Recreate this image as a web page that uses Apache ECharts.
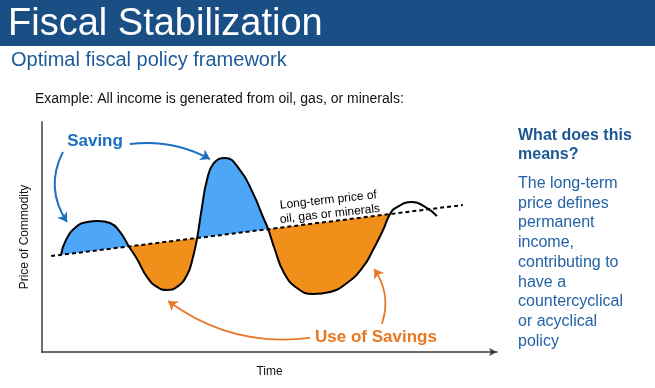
<!DOCTYPE html>
<html><head><meta charset="utf-8">
<script src="https://cdn.jsdelivr.net/npm/echarts@6/dist/echarts.min.js"></script>
<style>html,body{margin:0;padding:0;background:#fff}#c{width:655px;height:388px}</style>
</head><body><div id="c"></div>
<script>
// ---- data (arbitrary units: Time 0-100, Price 0-100) ----
const curveX = [4.18, 5.27, 7.47, 9.89, 12.31, 14.95, 17.14, 19.1, 20.88, 23.08, 25.27, 27.47, 29.67, 31.87, 33.19, 34.1,
  35.16, 36.26, 37.8, 40.22, 43.52, 46.37, 48.57, 49.7, 51.21, 53.19, 56.04, 59.56, 63.3, 67.03, 70.55, 72.75, 74.95, 76.5,
  78.02, 81.32, 84.62, 86.81];
const curveY = [42.2, 48.7, 54.35, 56.5, 56.96, 56.1, 52.2, 45.9, 40.4, 32.6, 28.3, 26.96, 28.3, 33.5, 41.3, 49.6,
  63.0, 74.8, 82.2, 84.35, 79.1, 69.1, 58.7, 53.4, 44.35, 34.35, 27.8, 25.2, 26.1, 30.0, 36.96, 44.35, 53.0, 60.0,
  63.0, 65.2, 62.6, 59.1];
const trendX = [2.0, 92.5];
const trendY = [41.7, 63.9];
// x-ranges where the price is below its long-term level (use of savings)
const useRanges = [[19.1, 34.1], [49.7, 76.5]];
// x-range of the saving shading (peaks before the last one)
const savingRange = [0, 70];

// annotation anchors (data units)
const savingLabel = [11.65, 91.7];
const useLabel = [73.4, 6.3];
const trendLabel = [63.1, 63.0];
const savingArrows = [[4.6, 87.0, 5.5, 56.5, -0.29], [19.3, 90.4, 36.9, 83.9, 0.16]];
const useArrows = [[58.9, 6.1, 27.7, 22.2, 0.2], [74.7, 12.2, 73.0, 36.1, -0.25]];

const BLUE = '#4DA6F7', ORANGE = '#F18F1B';
const FONT = '"Liberation Sans", Arial, sans-serif';

const curve = curveX.map((x, i) => [x, curveY[i]]);
const trend = trendX.map((x, i) => [x, trendY[i]]);
const TRANSP = 'rgba(255,255,255,0)';

const chart = echarts.init(document.getElementById('c'), null, {renderer: 'canvas'});
const hidden = {lineStyle: {opacity: 0, width: 0}, showSymbol: false, silent: true, animation: false, smooth: true};

chart.setOption({
  animation: false,
  backgroundColor: '#fff',
  grid: {left: 42, top: 122, width: 455, height: 230, containLabel: false},
  xAxis: {type: 'value', min: 0, max: 100, z: 10,
    axisLine: {show: true, onZero: false, lineStyle: {color: '#3c3c3c', width: 1.5}, symbol: ['none', 'arrow'], symbolSize: [6, 8]},
    axisTick: {show: false}, axisLabel: {show: false}, splitLine: {show: false},
    name: 'Time', nameLocation: 'middle', nameGap: 14,
    nameTextStyle: {fontFamily: FONT, fontSize: 12, color: '#111'}},
  yAxis: {type: 'value', min: 0, max: 100, z: 10,
    axisLine: {show: true, onZero: false, lineStyle: {color: '#6e6e6e', width: 2}},
    axisTick: {show: false}, axisLabel: {show: false}, splitLine: {show: false},
    name: 'Price of Commodity', nameLocation: 'middle', nameGap: 11,
    nameTextStyle: {fontFamily: FONT, fontSize: 12, color: '#111'}},
  visualMap: [
    {type: 'piecewise', show: false, dimension: 0, seriesIndex: 0,
      pieces: [{gte: savingRange[0], lte: savingRange[1], color: BLUE}], outOfRange: {color: TRANSP}},
    {type: 'piecewise', show: false, dimension: 0, seriesIndex: 2,
      pieces: useRanges.map(r => ({gte: r[0], lte: r[1], color: ORANGE})), outOfRange: {color: TRANSP}},
    {type: 'piecewise', show: false, dimension: 0, seriesIndex: 3,
      pieces: useRanges.map(r => ({gte: r[0], lte: r[1], color: '#ffffff'})), outOfRange: {color: TRANSP}}
  ],
  series: [
    Object.assign({type: 'line', data: curve, z: 1, areaStyle: {origin: 'start', opacity: 1}}, hidden),
    Object.assign({type: 'line', data: trend, z: 2, areaStyle: {origin: 'start', opacity: 1, color: '#ffffff'}}, hidden, {smooth: false}),
    Object.assign({type: 'line', data: curve, z: 3, areaStyle: {origin: 'end', opacity: 1}}, hidden),
    Object.assign({type: 'line', data: trend, z: 4, areaStyle: {origin: 'end', opacity: 1}}, hidden, {smooth: false}),
    {type: 'line', data: trend, z: 6, showSymbol: false, silent: true,
      lineStyle: {color: '#000', width: 2, type: [4, 3]}},
    {type: 'line', data: curve, z: 7, smooth: true, showSymbol: false, silent: true,
      lineStyle: {color: '#000', width: 2}},
    {type: 'lines', coordinateSystem: 'cartesian2d', z: 8, silent: true,
      symbol: ['none', 'arrow'], symbolSize: 9,
      data: savingArrows.map(a => ({coords: [[a[0], a[1]], [a[2], a[3]]], lineStyle: {color: '#1B6FC1', width: 2, curveness: a[4], opacity: 1}}))
        .concat(useArrows.map(a => ({coords: [[a[0], a[1]], [a[2], a[3]]], lineStyle: {color: '#E8772A', width: 1.8, curveness: a[4], opacity: 1}})))},
    {type: 'scatter', z: 9, symbolSize: 0, silent: true, itemStyle: {opacity: 1},
      data: [
        {value: savingLabel, label: {show: true, opacity: 1, position: 'inside', formatter: 'Saving', fontFamily: FONT, fontWeight: 'bold', fontSize: 17, color: '#1B6FC1'}},
        {value: useLabel, label: {show: true, opacity: 1, position: 'inside', formatter: 'Use of Savings', fontFamily: FONT, fontWeight: 'bold', fontSize: 17, color: '#E8771F'}},
        {value: trendLabel, label: {show: true, opacity: 1, position: 'inside', formatter: 'Long-term price of\noil, gas or minerals', rotate: 6.3, fontFamily: FONT, fontSize: 12, lineHeight: 14, color: '#000'}}
      ]}
  ],
  graphic: [
    {type: 'rect', shape: {x: 0, y: 0, width: 655, height: 46}, style: {fill: '#1A4F86'}, z: 0},
    {type: 'text', x: 8, y: 25, style: {text: 'Fiscal Stabilization', font: '38px ' + FONT, fill: '#fff', verticalAlign: 'middle'}},
    {type: 'text', x: 11, y: 60, style: {text: 'Optimal fiscal policy framework', font: '20px ' + FONT, fill: '#1F5B98', verticalAlign: 'middle'}},
    {type: 'text', x: 35, y: 99, style: {text: 'Example: All income is generated from oil, gas, or minerals:', font: '14px ' + FONT, fill: '#111', verticalAlign: 'middle'}},
    {type: 'text', x: 518, y: 126, style: {text: 'What does this\nmeans?', font: 'bold 16px ' + FONT, lineHeight: 19, fill: '#1D5792', verticalAlign: 'top'}},
    {type: 'text', x: 518, y: 173.5, style: {text: 'The long-term\nprice defines\npermanent\nincome,\ncontributing to\nhave a\ncountercyclical\nor acyclical\npolicy', font: '16px ' + FONT, lineHeight: 19.75, fill: '#2363A6', verticalAlign: 'top'}}
  ]
});
</script>
</body></html>
